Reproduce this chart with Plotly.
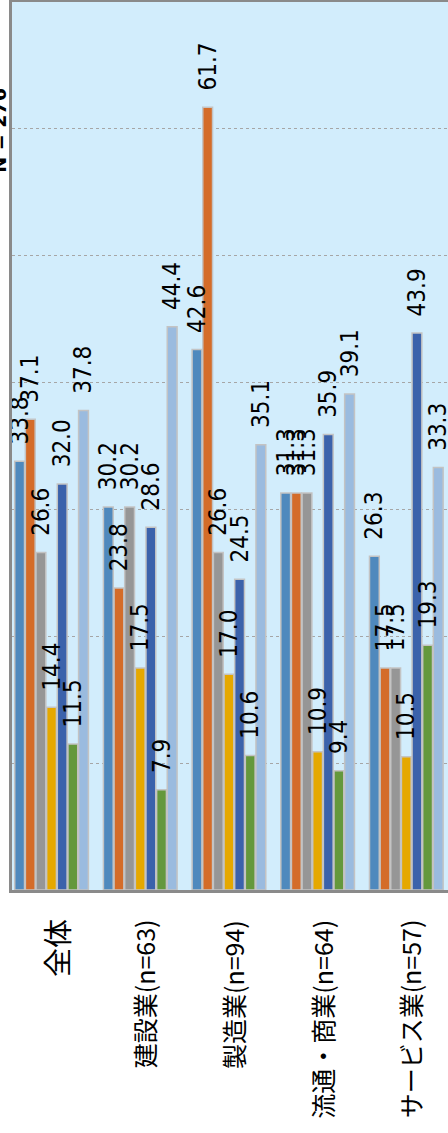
import plotly.graph_objects as go

categories = ["全体", "建設業(n=63)", "製造業(n=94)", "流通・商業(n=64)", "サービス業(n=57)"]
series_names = ["系列1", "系列2", "系列3", "系列4", "系列5", "系列6", "系列7"]
s1 = [33.8, 30.2, 42.6, 31.3, 26.3]
s2 = [37.1, 23.8, 61.7, 31.3, 17.5]
s3 = [26.6, 30.2, 26.6, 31.3, 17.5]
s4 = [14.4, 17.5, 17.0, 10.9, 10.5]
s5 = [32.0, 28.6, 24.5, 35.9, 43.9]
s6 = [11.5, 7.9, 10.6, 9.4, 19.3]
s7 = [37.8, 44.4, 35.1, 39.1, 33.3]
series_values = [s1, s2, s3, s4, s5, s6, s7]
colors = ["#4f89bd", "#d46c29", "#969696", "#e5a800", "#3b62ab", "#64983c", "#9abbdf"]
y_ticks = [0, 10, 20, 30, 40, 50, 60, 70]
n_label = "N = 276"

fig = go.Figure()
# bars
for i, (name, vals, col) in enumerate(zip(series_names, series_values, colors)):
    fig.add_trace(go.Bar(
        x=categories, y=vals, name=name, offsetgroup=str(i),
        marker=dict(color=col, line=dict(color="#c3c3c3", width=1.5)),
    ))
# value labels drawn on top of all bars (transparent overlay bars in same slots)
for i, (name, vals) in enumerate(zip(series_names, series_values)):
    fig.add_trace(go.Bar(
        x=categories, y=vals, name=name + " ラベル", offsetgroup=str(i),
        marker=dict(color="rgba(0,0,0,0)", line=dict(width=0)),
        text=["\u00a0\u00a0" + f"{v:.1f}" for v in vals],
        textposition="outside", textangle=-90,
        constraintext="none", cliponaxis=False,
        textfont=dict(family="DejaVu Sans Condensed, DejaVu Sans", size=24, color="black"),
        hoverinfo="skip",
    ))

annotations = []
for j, cat in enumerate(categories):
    annotations.append(dict(
        text=cat, xref="x", yref="paper", x=cat, y=-0.031,
        xanchor="center", yanchor="top", xshift=4,
        textangle=-90, showarrow=False,
        font=dict(family="Noto Sans CJK JP", size=29 if j == 0 else 25, color="black"),
    ))
annotations.append(dict(
    text=f"<b>{n_label}</b>", xref="paper", yref="paper",
    x=-0.03, y=0.856, xanchor="center", yanchor="middle",
    textangle=-90, showarrow=False,
    font=dict(family="DejaVu Sans", size=19, color="black"),
))

fig.update_layout(
    width=448, height=1133,
    margin=dict(l=12, r=0, t=2, b=243),
    barmode="group", bargap=0.16, bargroupgap=0.08,
    plot_bgcolor="#d2edfc", paper_bgcolor="white",
    showlegend=False,
    xaxis=dict(
        type="category", range=[-0.446, 4.47],
        showline=True, linecolor="#8a8a8a", linewidth=2.5, mirror=True,
        showticklabels=False, ticks="",
        showgrid=False,
    ),
    yaxis=dict(
        range=[0, 70], tickvals=y_ticks, showticklabels=False,
        showline=True, linecolor="#8a8a8a", linewidth=2.5,
        showgrid=True, gridcolor="#a6a6a6", griddash="dot", gridwidth=1,
        zeroline=False,
    ),
    annotations=annotations,
)

fig.write_html("out.html")
